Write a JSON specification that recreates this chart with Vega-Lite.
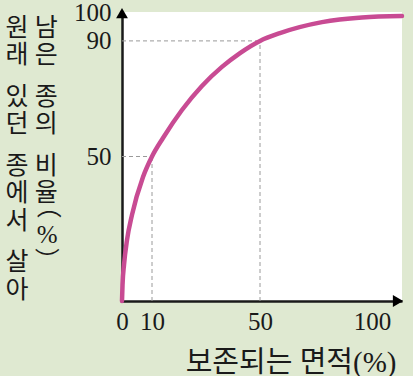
{
  "$schema": "https://vega.github.io/schema/vega-lite/v6.json",
  "width": 280,
  "height": 289,
  "autosize": {"type": "none"},
  "padding": {"left": 122, "top": 12, "right": 11, "bottom": 75},
  "background": "#dfe9d1",
  "view": {"fill": "white", "stroke": null},
  "config": {
    "axis": {
      "labelFont": "Liberation Serif",
      "labelFontSize": 25,
      "labelColor": "#1a1a1a",
      "titleFont": "Liberation Serif, Noto Sans CJK KR",
      "titleFontWeight": "normal",
      "titleColor": "#1a1a1a",
      "domainColor": "#1a1a1a",
      "domainWidth": 2.5,
      "ticks": false,
      "grid": false,
      "labelFlush": false,
      "labelOverlap": false
    }
  },
  "datasets": {
    "curve": [
      {"area": 0, "species": 0},
      {"area": 0.17, "species": 5.5},
      {"area": 0.67, "species": 12.5},
      {"area": 1.67, "species": 21.1},
      {"area": 3.33, "species": 29.8},
      {"area": 7, "species": 42.9},
      {"area": 10, "species": 50},
      {"area": 14.07, "species": 56.4},
      {"area": 21.1, "species": 66.1},
      {"area": 28.5, "species": 74.4},
      {"area": 35.9, "species": 81.0},
      {"area": 42.6, "species": 85.8},
      {"area": 50, "species": 90},
      {"area": 58.9, "species": 92.7},
      {"area": 77.7, "species": 96.5},
      {"area": 95.5, "species": 98.1},
      {"area": 112, "species": 98.6}
    ],
    "guides": [
      {"area": 10, "species": 50, "zero": 0},
      {"area": 50, "species": 90, "zero": 0}
    ],
    "arrowUp": [{"area": 0, "species": 99.6}],
    "arrowRight": [{"area": 110.4, "species": 0}]
  },
  "layer": [
    {
      "data": {"name": "guides"},
      "mark": {"type": "rule", "color": "#9a9a9a", "strokeDash": [4, 3], "strokeWidth": 1},
      "encoding": {
        "x": {"field": "zero", "type": "quantitative", "scale": {"domain": [0, 10, 50, 100, 112], "range": [0, 30, 138, 250, 280]}},
        "x2": {"field": "area"},
        "y": {"field": "species", "type": "quantitative", "scale": {"domain": [0, 100]}}
      }
    },
    {
      "data": {"name": "guides"},
      "mark": {"type": "rule", "color": "#9a9a9a", "strokeDash": [4, 3], "strokeWidth": 1},
      "encoding": {
        "x": {"field": "area", "type": "quantitative", "scale": {"domain": [0, 10, 50, 100, 112], "range": [0, 30, 138, 250, 280]}},
        "y": {"field": "zero", "type": "quantitative", "scale": {"domain": [0, 100]}},
        "y2": {"field": "species"}
      }
    },
    {
      "data": {"name": "curve"},
      "mark": {"type": "line", "color": "#c84b93", "strokeWidth": 4.5, "interpolate": "monotone", "strokeCap": "round"},
      "encoding": {
        "x": {
          "field": "area",
          "type": "quantitative",
          "scale": {"domain": [0, 10, 50, 100, 112], "range": [0, 30, 138, 250, 280]},
          "axis": {
            "values": [0, 10, 50, 100],
            "title": "보존되는 면적(%)",
            "titleFontSize": 29,
            "titleX": 274,
            "titleY": 70,
            "titleAlign": "right",
            "titleBaseline": "alphabetic",
            "labelPadding": 8
          }
        },
        "y": {
          "field": "species",
          "type": "quantitative",
          "scale": {"domain": [0, 100]},
          "axis": {
            "values": [50, 90, 100],
            "title": ["원\u00a0남", "\u200b", "래\u00a0은", "\u200b", "\u200b", "있\u00a0종", "\u200b", "던\u00a0의", "\u200b", "\u200b", "종\u00a0비", "\u200b", "에\u00a0율", "\u200b　\u00a0︵", "서", "\u200b　\u00a0%", "\u200b", "살\u00a0︶", "\u200b", "아"],
            "titleAngle": 0,
            "titleAlign": "left",
            "titleBaseline": "top",
            "titleX": -117,
            "titleY": 3,
            "titleFontSize": 25,
            "titleLineHeight": 13.8,
            "labelPadding": 11
          }
        }
      }
    },
    {
      "data": {"name": "arrowUp"},
      "mark": {"type": "point", "shape": "triangle-up", "filled": true, "color": "#000000", "size": 140, "opacity": 1, "strokeWidth": 0},
      "encoding": {
        "x": {"field": "area", "type": "quantitative", "scale": {"domain": [0, 10, 50, 100, 112], "range": [0, 30, 138, 250, 280]}},
        "y": {"field": "species", "type": "quantitative", "scale": {"domain": [0, 100]}}
      }
    },
    {
      "data": {"name": "arrowRight"},
      "mark": {"type": "point", "shape": "triangle-right", "filled": true, "color": "#000000", "size": 140, "opacity": 1, "strokeWidth": 0},
      "encoding": {
        "x": {"field": "area", "type": "quantitative", "scale": {"domain": [0, 10, 50, 100, 112], "range": [0, 30, 138, 250, 280]}},
        "y": {"field": "species", "type": "quantitative", "scale": {"domain": [0, 100]}}
      }
    }
  ]
}
